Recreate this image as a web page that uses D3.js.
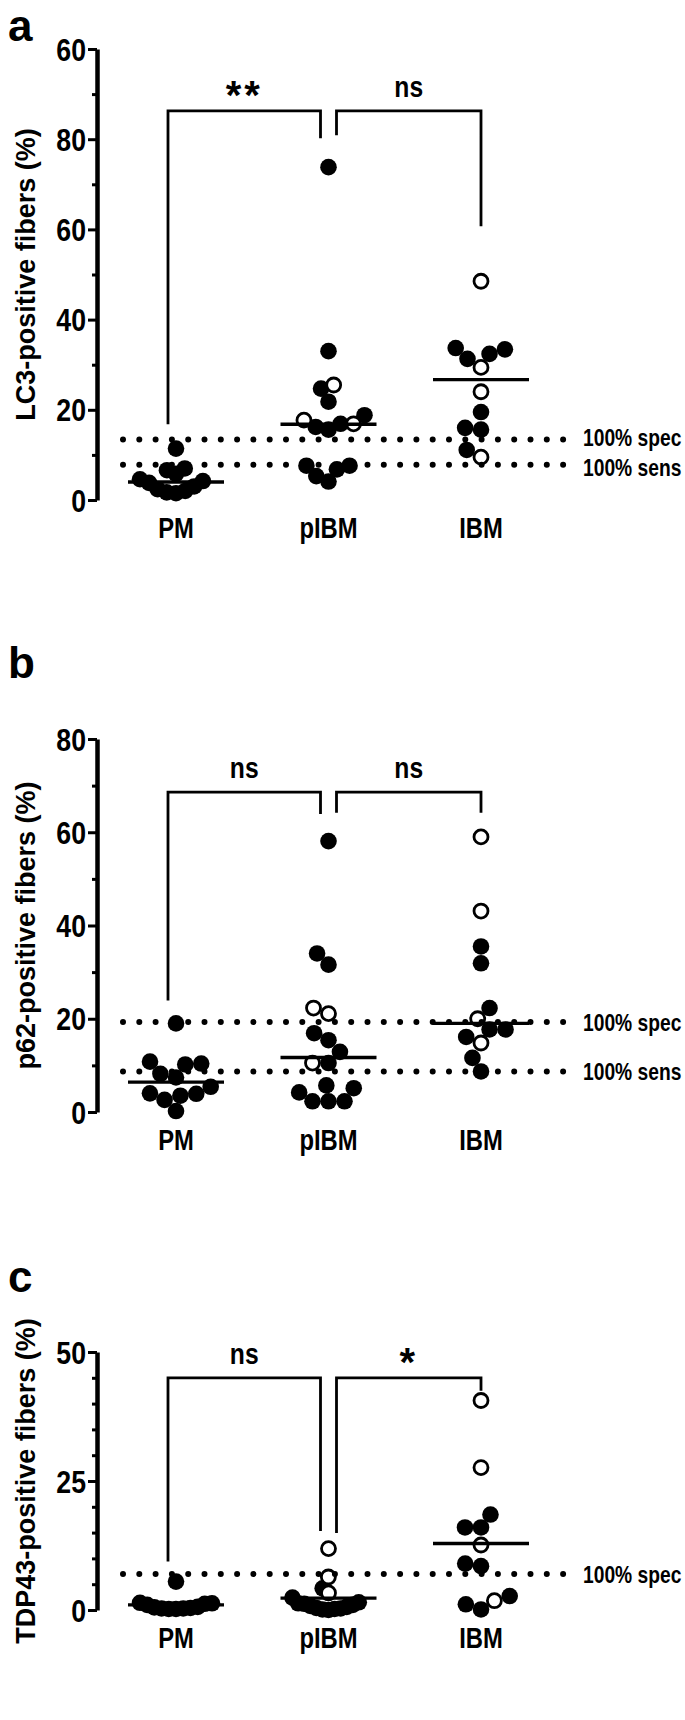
<!DOCTYPE html>
<html><head><meta charset="utf-8">
<script src="https://cdn.jsdelivr.net/npm/d3@7"></script>
<style>
html,body{margin:0;padding:0;background:#fff;}
svg{display:block;}
text{font-family:"Liberation Sans",Arial,Helvetica,sans-serif;font-weight:bold;fill:#000;}
</style></head><body>
<svg id="chart" width="685" height="1720"></svg>
<script>
// ---------------- DATA ----------------
const categories = ["PM", "pIBM", "IBM"];

// Panel a: LC3
const lc3Filled = [
  [11.4, 7.0, 6.6, 5.8, 4.6, 4.2, 3.8, 3.0, 2.4, 2.0, 1.7, 1.5],
  [73.8, 33.0, 24.7, 21.8, 18.8, 16.9, 16.2, 15.6, 7.6, 7.6, 6.8, 5.3, 4.1],
  [33.7, 33.4, 32.4, 31.3, 19.5, 16.0, 15.6, 11.1]
];
const lc3Open = [[], [25.5, 17.7, 16.9], [48.5, 29.4, 24.0, 9.5]];
const lc3Lines = [4.0, 16.8, 26.7];
const lc3Ticks = [0, 20, 40, 60, 80, 100];
const lc3TickLabels = ["0", "20", "40", "60", "80", "60"];
const lc3Minor = [10, 30, 50, 70, 90];
const lc3Refs = [13.4, 7.8];
const lc3RefLabels = ["100% spec", "100% sens"];
const lc3Sig = ["**", "ns"];
const lc3Bracket = [86.3, 16.8, 80.2, 80.9, 60.7]; // top, PM end, pIBM ends, IBM end

// Panel b: p62
const p62Filled = [
  [19.0, 10.8, 10.4, 10.2, 8.2, 7.4, 5.4, 4.0, 3.9, 3.5, 2.6, 0.2],
  [58.1, 34.0, 31.6, 16.9, 15.4, 12.9, 10.5, 5.7, 5.1, 4.2, 2.3, 2.3, 2.3],
  [35.5, 31.9, 22.3, 17.7, 17.7, 16.1, 11.6, 8.7]
];
const p62Open = [[], [22.3, 21.1, 10.5], [59.0, 43.1, 20.0, 14.8]];
const p62Lines = [6.4, 11.7, 19.0];
const p62Ticks = [0, 20, 40, 60, 80];
const p62TickLabels = ["0", "20", "40", "60", "80"];
const p62Minor = [10, 30, 50, 70];
const p62Refs = [19.3, 8.7];
const p62RefLabels = ["100% spec", "100% sens"];
const p62Sig = ["ns", "ns"];
const p62Bracket = [68.6, 23.9, 63.9, 64.2, 64.2];

// Panel c: TDP43
const tdpFilled = [
  [5.5, 1.4, 1.3, 1.2, 1.0, 0.6, 0.5, 0.4, 0.3, 0.3, 0.2, 0.2],
  [4.2, 2.4, 1.5, 1.3, 1.2, 1.0, 0.8, 0.6, 0.4, 0.3, 0.2, 0.1, 0.0],
  [18.5, 16.0, 16.0, 9.0, 8.5, 2.7, 1.1, 0.1]
];
const tdpOpen = [[], [11.9, 6.4, 3.3], [40.6, 27.6, 12.6, 1.8]];
const tdpLines = [1.0, 2.3, 12.9];
const tdpTicks = [0, 25, 50];
const tdpTickLabels = ["0", "25", "50"];
const tdpMinor = [5, 10, 15, 20, 30, 35, 40, 45];
const tdpRefs = [7.0];
const tdpRefLabels = ["100% spec"];
const tdpSig = ["ns", "*"];
const tdpBracket = [45.0, 9.4, 15.3, 14.9, 42.5];

// ---------------- LAYOUT ----------------
const panels = [
  {letter: "a", letterY: 41, title: "LC3-positive fibers (%)", top: 49, bottom: 500, max: 100,
   ticks: lc3Ticks, tickLabels: lc3TickLabels, minor: lc3Minor, filled: lc3Filled, open: lc3Open,
   lines: lc3Lines, refs: lc3Refs, refLabels: lc3RefLabels, sig: lc3Sig, bracket: lc3Bracket},
  {letter: "b", letterY: 678, title: "p62-positive fibers (%)", top: 739, bottom: 1112, max: 80,
   ticks: p62Ticks, tickLabels: p62TickLabels, minor: p62Minor, filled: p62Filled, open: p62Open,
   lines: p62Lines, refs: p62Refs, refLabels: p62RefLabels, sig: p62Sig, bracket: p62Bracket},
  {letter: "c", letterY: 1292, title: "TDP43-positive fibers (%)", top: 1352, bottom: 1610, max: 50,
   ticks: tdpTicks, tickLabels: tdpTickLabels, minor: tdpMinor, filled: tdpFilled, open: tdpOpen,
   lines: tdpLines, refs: tdpRefs, refLabels: tdpRefLabels, sig: tdpSig, bracket: tdpBracket}
];

const svg = d3.select("#chart");
const axisX = 97;
const x = d3.scalePoint().domain(categories).range([176, 481]);
const R = 8.3;          // marker radius
const minD = 16;        // swarm min centre distance
const maxHalf = 36;     // max horizontal spread of a swarm
const lineHalf = 48;
const dotStart = 123, dotEnd = 571, refLabelX = 583;

function squeeze(sel, f) {
  sel.each(function () {
    const w = this.getComputedTextLength() * f;
    d3.select(this).attr("textLength", w).attr("lengthAdjust", "spacingAndGlyphs");
  });
}

// beeswarm: bottom-up, closest-to-centre placement, then compressed to maxHalf
function swarm(pts, y) {
  const order = d3.range(pts.length).sort((a, b) => pts[a].v - pts[b].v);
  const placed = [];
  order.forEach(i => {
    const py = y(pts[i].v);
    const cands = [0];
    placed.forEach(p => {
      const dy = Math.abs(p.y - py);
      if (dy < minD) {
        const dx = Math.sqrt(minD * minD - dy * dy);
        cands.push(p.x - dx, p.x + dx);
      }
    });
    cands.sort((a, b) => Math.abs(a) - Math.abs(b) || a - b);
    const ok = cands.find(c => placed.every(p => (p.x - c) ** 2 + (p.y - py) ** 2 >= minD * minD - 0.01));
    pts[i].dx = ok;
    pts[i].py = py;
    placed.push({x: ok, y: py});
  });
  const m = d3.max(pts, p => Math.abs(p.dx));
  if (m > maxHalf) pts.forEach(p => p.dx *= maxHalf / m);
  return pts;
}

panels.forEach(P => {
  const g = svg.append("g");
  const y = d3.scaleLinear().domain([0, P.max]).range([P.bottom, P.top]);

  // panel letter
  g.append("text").attr("x", 8).attr("y", P.letterY).attr("font-size", 44).text(P.letter);

  // y title
  g.append("text")
    .attr("transform", `translate(35,${(P.top + P.bottom) / 2}) rotate(-90)`)
    .attr("text-anchor", "middle").attr("font-size", 27).text(P.title);

  // axis
  const ax = g.append("g").attr("transform", `translate(${axisX},0)`)
    .call(d3.axisLeft(y).tickValues(P.ticks).tickFormat((d, i) => P.tickLabels[i])
      .tickSize(9).tickSizeOuter(0).tickPadding(2));
  ax.select(".domain").attr("stroke", "#000").attr("stroke-width", 4.5);
  ax.selectAll(".tick line").attr("stroke", "#000").attr("stroke-width", 3);
  const tl = ax.selectAll(".tick text").attr("font-size", 31).attr("font-family", null)
    .attr("dy", "0.36em").attr("fill", "#000");
  squeeze(tl, 0.86);
  const axm = g.append("g").attr("transform", `translate(${axisX},0)`)
    .call(d3.axisLeft(y).tickValues(P.minor).tickFormat("").tickSize(5).tickSizeOuter(0));
  axm.select(".domain").remove();
  axm.selectAll(".tick line").attr("stroke", "#000").attr("stroke-width", 3);

  // category labels
  const cl = g.selectAll(".cat").data(categories).join("text")
    .attr("x", d => x(d)).attr("y", P.bottom + 38).attr("text-anchor", "middle")
    .attr("font-size", 29).text(d => d);
  squeeze(cl, 0.82);

  // points
  categories.forEach((c, ci) => {
    const pts = P.filled[ci].map(v => ({v, open: false}))
      .concat(P.open[ci].map(v => ({v, open: true})));
    swarm(pts, y);
    const cx = x(c);
    g.selectAll(null).data(pts.filter(p => !p.open)).join("circle")
      .attr("cx", p => cx + p.dx).attr("cy", p => p.py).attr("r", R).attr("fill", "#000");
    g.selectAll(null).data(pts.filter(p => p.open)).join("circle")
      .attr("cx", p => cx + p.dx).attr("cy", p => p.py).attr("r", R - 1.3)
      .attr("fill", "#fff").attr("stroke", "#000").attr("stroke-width", 2.8);
  });

  // centre lines
  g.selectAll(null).data(P.lines).join("line")
    .attr("x1", (d, i) => x(categories[i]) - lineHalf).attr("x2", (d, i) => x(categories[i]) + lineHalf)
    .attr("y1", d => y(d)).attr("y2", d => y(d)).attr("stroke", "#000").attr("stroke-width", 3.4);

  // reference dotted lines
  g.selectAll(null).data(P.refs).join("line")
    .attr("x1", dotStart).attr("x2", dotEnd).attr("y1", d => y(d)).attr("y2", d => y(d))
    .attr("stroke", "#000").attr("stroke-width", 6).attr("stroke-linecap", "round")
    .attr("stroke-dasharray", "0 16.3");
  // labels (condensed via transform so the box stays honest); nudge apart when close
  const n = P.refs.length;
  g.selectAll(null).data(P.refs).join("text")
    .attr("transform", (d, i) => {
      const nudge = n > 1 && Math.abs(y(P.refs[0]) - y(P.refs[1])) < 32 ? (i === 0 ? -2.5 : 2.5) : 0;
      return `translate(${refLabelX},${y(d) + nudge}) scale(0.74,0.95)`;
    })
    .attr("dy", "0.36em").attr("font-size", 26)
    .text((d, i) => P.refLabels[i]);

  // significance brackets
  const [bt, e0, e1, e2, e3] = P.bracket;
  const xp = x("PM") - 8, xl = x("pIBM") - 8, xr = x("pIBM") + 8, xi = x("IBM");
  const path1 = d3.path();
  path1.moveTo(xp, y(e0)); path1.lineTo(xp, y(bt)); path1.lineTo(xl, y(bt)); path1.lineTo(xl, y(e1));
  const path2 = d3.path();
  path2.moveTo(xr, y(e2)); path2.lineTo(xr, y(bt)); path2.lineTo(xi, y(bt)); path2.lineTo(xi, y(e3));
  g.selectAll(null).data([path1, path2]).join("path").attr("d", d => d.toString())
    .attr("fill", "none").attr("stroke", "#000").attr("stroke-width", 2.8).attr("stroke-linejoin", "miter");
  const sg = g.selectAll(null).data(P.sig).join("text")
    .attr("x", (d, i) => i === 0 ? (xp + xl) / 2 : (xr + xi) / 2)
    .attr("y", d => d.startsWith("*") ? y(bt) - 2 : y(bt) - 14)
    .attr("text-anchor", "middle")
    .attr("font-size", d => d.startsWith("*") ? 40 : 29)
    .attr("letter-spacing", d => d.startsWith("*") ? 3 : 0)
    .text(d => d);
  squeeze(sg.filter(d => !d.startsWith("*")), 0.85);
});
</script>
</body></html>
